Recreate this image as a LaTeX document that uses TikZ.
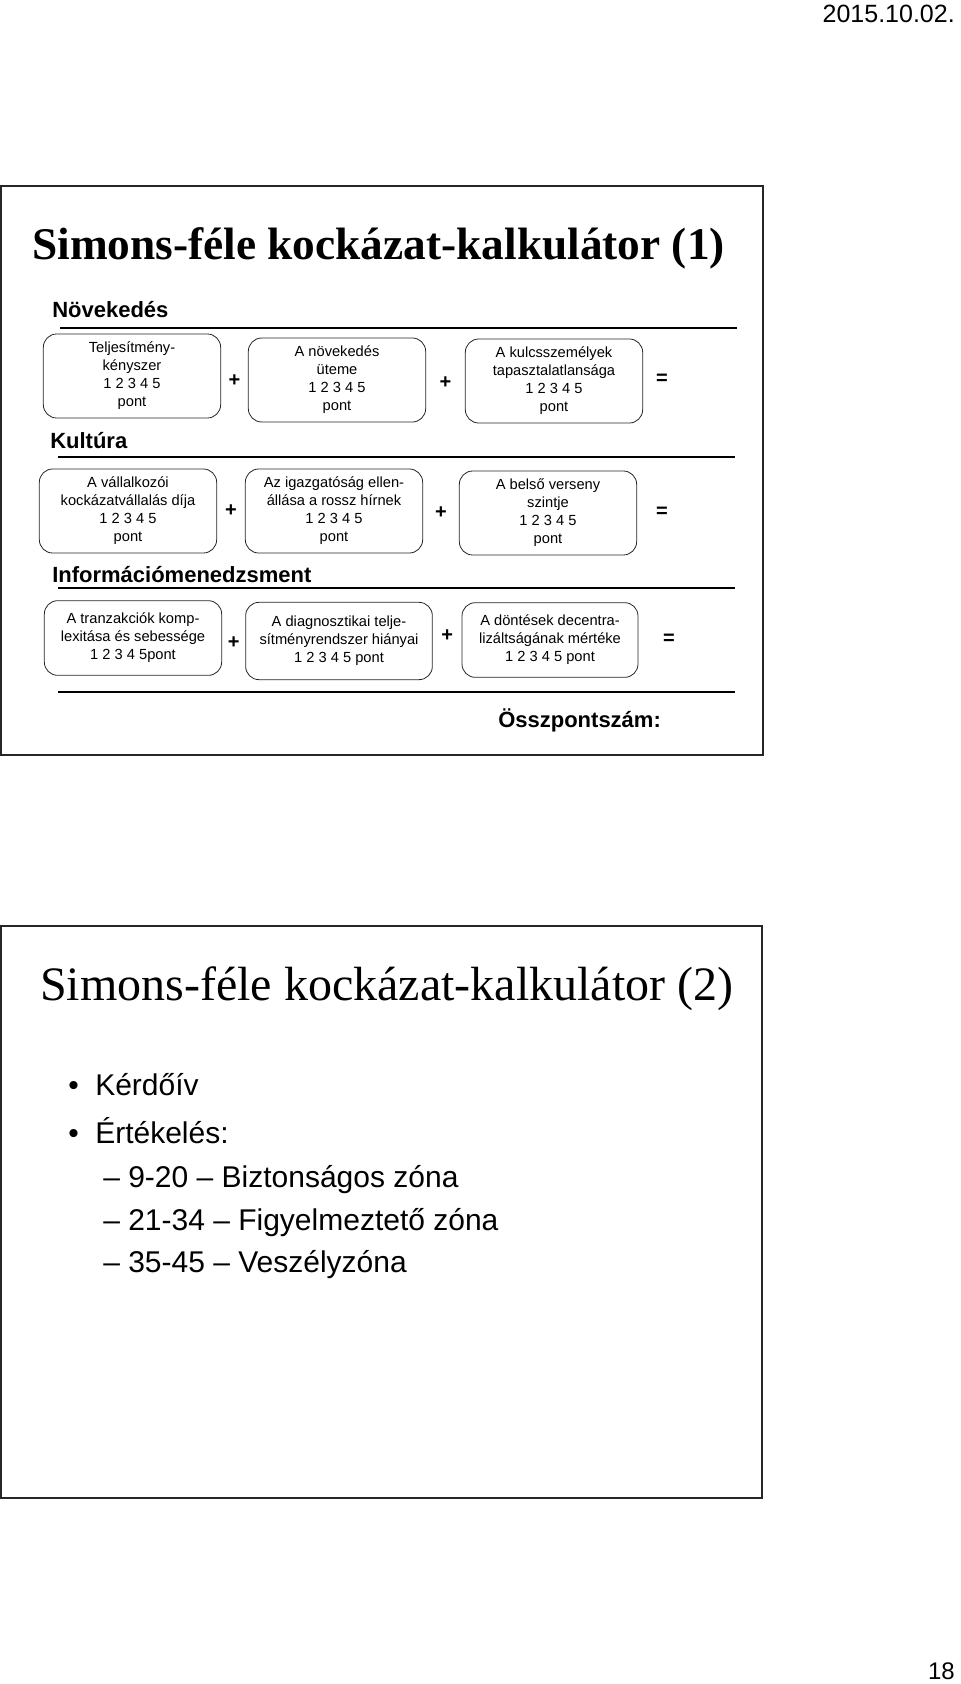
\documentclass[tikz,border=0pt]{standalone}
\usepackage{fontspec}
\setmainfont{Liberation Sans}
\newfontfamily\serifcim{Liberation Serif}
\usetikzlibrary{positioning,calc}
\tikzset{
  doboz/.style={rectangle, rounded corners=10pt, draw=black!85, line width=0.6pt, align=center,
                font=\fontsize{11}{13.5}\selectfont, minimum width=133pt, minimum height=63pt, inner sep=2pt},
  jel/.style={font=\fontsize{15}{15}\selectfont\bfseries, inner sep=0pt},
  fejlec/.style={anchor=base west, font=\fontsize{16.5}{18}\selectfont\bfseries, inner sep=0pt},
  vonal/.style={line width=2.2pt},
  keret/.style={line width=1.8pt, draw=black!85},
  pont/.style={anchor=base west, font=\fontsize{22.5}{26}\selectfont, inner sep=0pt},
}

\begin{document}
\begin{tikzpicture}[x=0.75pt, y=-0.75pt]
  \useasboundingbox (0,0) rectangle (960,1684);
  % dátum és oldalszám
  \node[anchor=base east, inner sep=0pt, font=\fontsize{18.75}{20}\selectfont] (datum) at (955,23) {2015.10.02.};
  \node[anchor=base east, inner sep=0pt, font=\fontsize{18}{20}\selectfont] (oldal) at (955,1679) {18};

  % első dia
  \draw[keret] (1,186) rectangle (763,755);
  \node[anchor=base west, inner sep=0pt, font=\serifcim\bfseries\fontsize{34}{36}\selectfont] (cim1) at (32,259)
    {Simons-féle kockázat-kalkulátor (1)};

  \node[fejlec] (novekedes) at (52,317) {Növekedés};
  \draw[vonal] (60,328) -- (737,328);
  \node[doboz] (n1) at (132,376) {Teljesítmény-\\kényszer\\1 2 3 4 5\\pont};
  \node[doboz] (n2) at (337,380) {A növekedés\\üteme\\1 2 3 4 5\\pont};
  \node[doboz] (n3) at (554,381) {A kulcsszemélyek\\tapasztalatlansága\\1 2 3 4 5\\pont};
  \node[jel] (np1) at ($(n1.east)!0.5!(n2.west)+(0,3)$) {+};
  \node[jel] (np2) at ($(n2.east)!0.5!(n3.west)+(0,2)$) {+};
  \node[jel] (ne) at (662,379) {=};

  \node[fejlec] (kultura) at (50,448) {Kultúra};
  \draw[vonal] (58,457) -- (735,457);
  \node[doboz] (k1) at (128,511) {A vállalkozói\\kockázatvállalás díja\\1 2 3 4 5\\pont};
  \node[doboz] (k2) at (334,511) {Az igazgatóság ellen-\\állása a rossz hírnek\\1 2 3 4 5\\pont};
  \node[doboz] (k3) at (548,513) {A belső verseny\\szintje\\1 2 3 4 5\\pont};
  \node[jel] (kp1) at ($(k1.east)!0.5!(k2.west)$) {+};
  \node[jel] (kp2) at ($(k2.east)!0.5!(k3.west)+(0,1)$) {+};
  \node[jel] (ke) at (662,512) {=};

  \node[fejlec] (info) at (52,582) {Információmenedzsment};
  \draw[vonal] (58,588) -- (735,588);
  \node[doboz, minimum height=56pt] (i1) at (133,638) {A tranzakciók komp-\\lexitása és sebessége\\1 2 3 4 5pont};
  \node[doboz, minimum height=58pt, minimum width=140pt] (i2) at (339,641) {A diagnosztikai telje-\\sítményrendszer hiányai\\1 2 3 4 5 pont};
  \node[doboz, minimum height=56pt, minimum width=132pt] (i3) at (550,640) {A döntések decentra-\\lizáltságának mértéke\\1 2 3 4 5 pont};
  \node[jel] (ip1) at ($(i1.east)!0.5!(i2.west)+(0,3)$) {+};
  \node[jel] (ip2) at ($(i2.east)!0.5!(i3.west)-(0,5)$) {+};
  \node[jel] (ie) at (669,639) {=};

  \draw[vonal] (58,692) -- (735,692);
  \node[fejlec] (ossz) at (498,727) {Összpontszám:};

  % második dia
  \draw[keret] (1,926) rectangle (762,1498);
  \node[anchor=base west, inner sep=0pt, font=\serifcim\fontsize{36}{38}\selectfont] (cim2) at (40,1000)
    {Simons-féle kockázat-kalkulátor (2)};
  \node[pont] (b1) at (68,1095) {•};
  \node[pont] (kerdoiv) at (95,1095) {Kérdőív};
  \node[pont] (b2) at (68,1143) {•};
  \node[pont] (ertekeles) at (95,1143) {Értékelés:};
  \node[pont] (z1) at (103,1187) {– 9-20 – Biztonságos zóna};
  \node[pont] (z2) at (103,1230) {– 21-34 – Figyelmeztető zóna};
  \node[pont] (z3) at (103,1272) {– 35-45 – Veszélyzóna};
\end{tikzpicture}
\end{document}
